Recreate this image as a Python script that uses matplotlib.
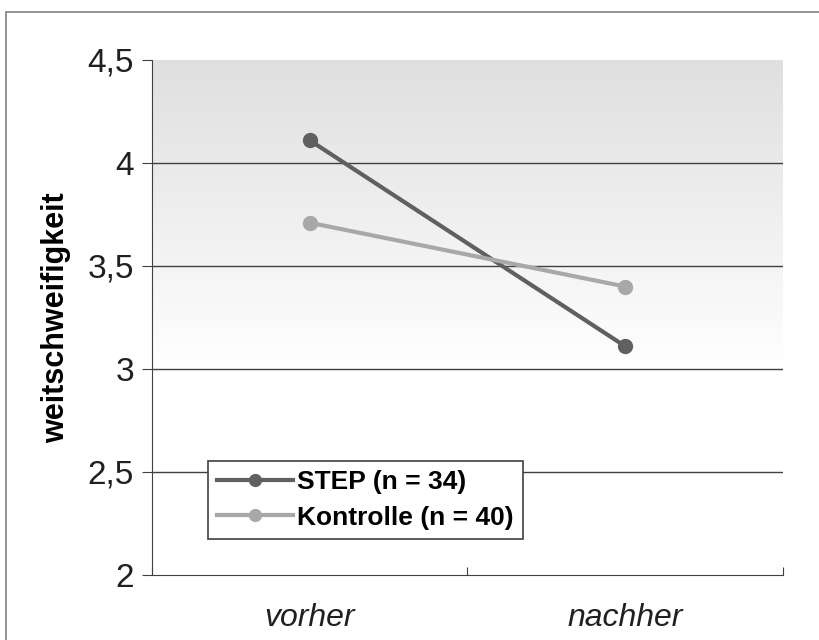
import numpy as np
import matplotlib.pyplot as plt
from matplotlib.patches import Rectangle

plt.rcParams['font.family'] = ['Liberation Sans', 'DejaVu Sans']

kategorien = ['vorher', 'nachher']
step_werte = [4.11, 3.11]
kontrolle_werte = [3.71, 3.40]
y_ticks = [2, 2.5, 3, 3.5, 4, 4.5]
y_tick_labels = ['2', '2,5', '3', '3,5', '4', '4,5']

fig = plt.figure(figsize=(8.19, 6.4), dpi=100)
ax = fig.add_axes([0.1856, 0.1016, 0.7704, 0.8047])

# aeusserer Rahmen
fig.patches.append(Rectangle((0.0073, -0.1), 2, 1.081, transform=fig.transFigure,
                             fill=False, edgecolor='#808080', linewidth=1.2))

# Hintergrund: grau oben, nach unten weiss
grad = np.linspace(0, 1, 256).reshape(-1, 1)
farbe = np.clip(0.875 + grad * 0.125 / 0.6, 0, 1)
bild = np.dstack([farbe, farbe, farbe])
ax.imshow(bild, extent=[0, 2, 2, 4.5], origin='upper', aspect='auto', zorder=0)

x = np.arange(len(kategorien)) + 0.5
ax.plot(x, step_werte, color='#606060', linewidth=3, marker='o', markersize=10,
        label='STEP (n = 34)', zorder=3)
ax.plot(x, kontrolle_werte, color='#a8a8a8', linewidth=3, marker='o', markersize=10,
        label='Kontrolle (n = 40)', zorder=3)

ax.set_xlim(0, 2)
ax.set_ylim(2, 4.5)
ax.set_yticks(y_ticks)
ax.set_yticklabels(y_tick_labels, fontsize=24, color='#202020')
ax.set_xticks([0, 1, 2])
ax.set_xticklabels([])
ax.set_xticks(x, minor=True)
ax.set_xticklabels(kategorien, minor=True, fontsize=23, style='italic', color='#202020')
ax.tick_params(axis='x', which='minor', length=0, pad=20)
ax.tick_params(axis='x', which='major', length=6, direction='in', color='#404040')
ax.tick_params(axis='y', length=7, direction='out', color='#404040', pad=6)

for yv in [2.5, 3, 3.5, 4]:
    ax.axhline(yv, color='#404040', linewidth=1, zorder=1)

for s in ['top', 'right']:
    ax.spines[s].set_visible(False)
ax.spines['left'].set_color('#404040')
ax.spines['bottom'].set_color('#404040')

ax.set_ylabel('weitschweifigkeit', fontsize=22, fontweight='bold', labelpad=12)

leg = ax.legend(loc='lower left', bbox_to_anchor=(0.088, 0.07),
                prop={'weight': 'bold', 'size': 19}, frameon=True, fancybox=False,
                handlelength=2.9, borderpad=0.35, labelspacing=0.45, handletextpad=0.15,
                borderaxespad=0, markerscale=0.85)
leg.get_frame().set_edgecolor('#404040')
leg.get_frame().set_linewidth(1.2)
leg.get_frame().set_alpha(1)

plt.savefig('out.png', dpi=100)
